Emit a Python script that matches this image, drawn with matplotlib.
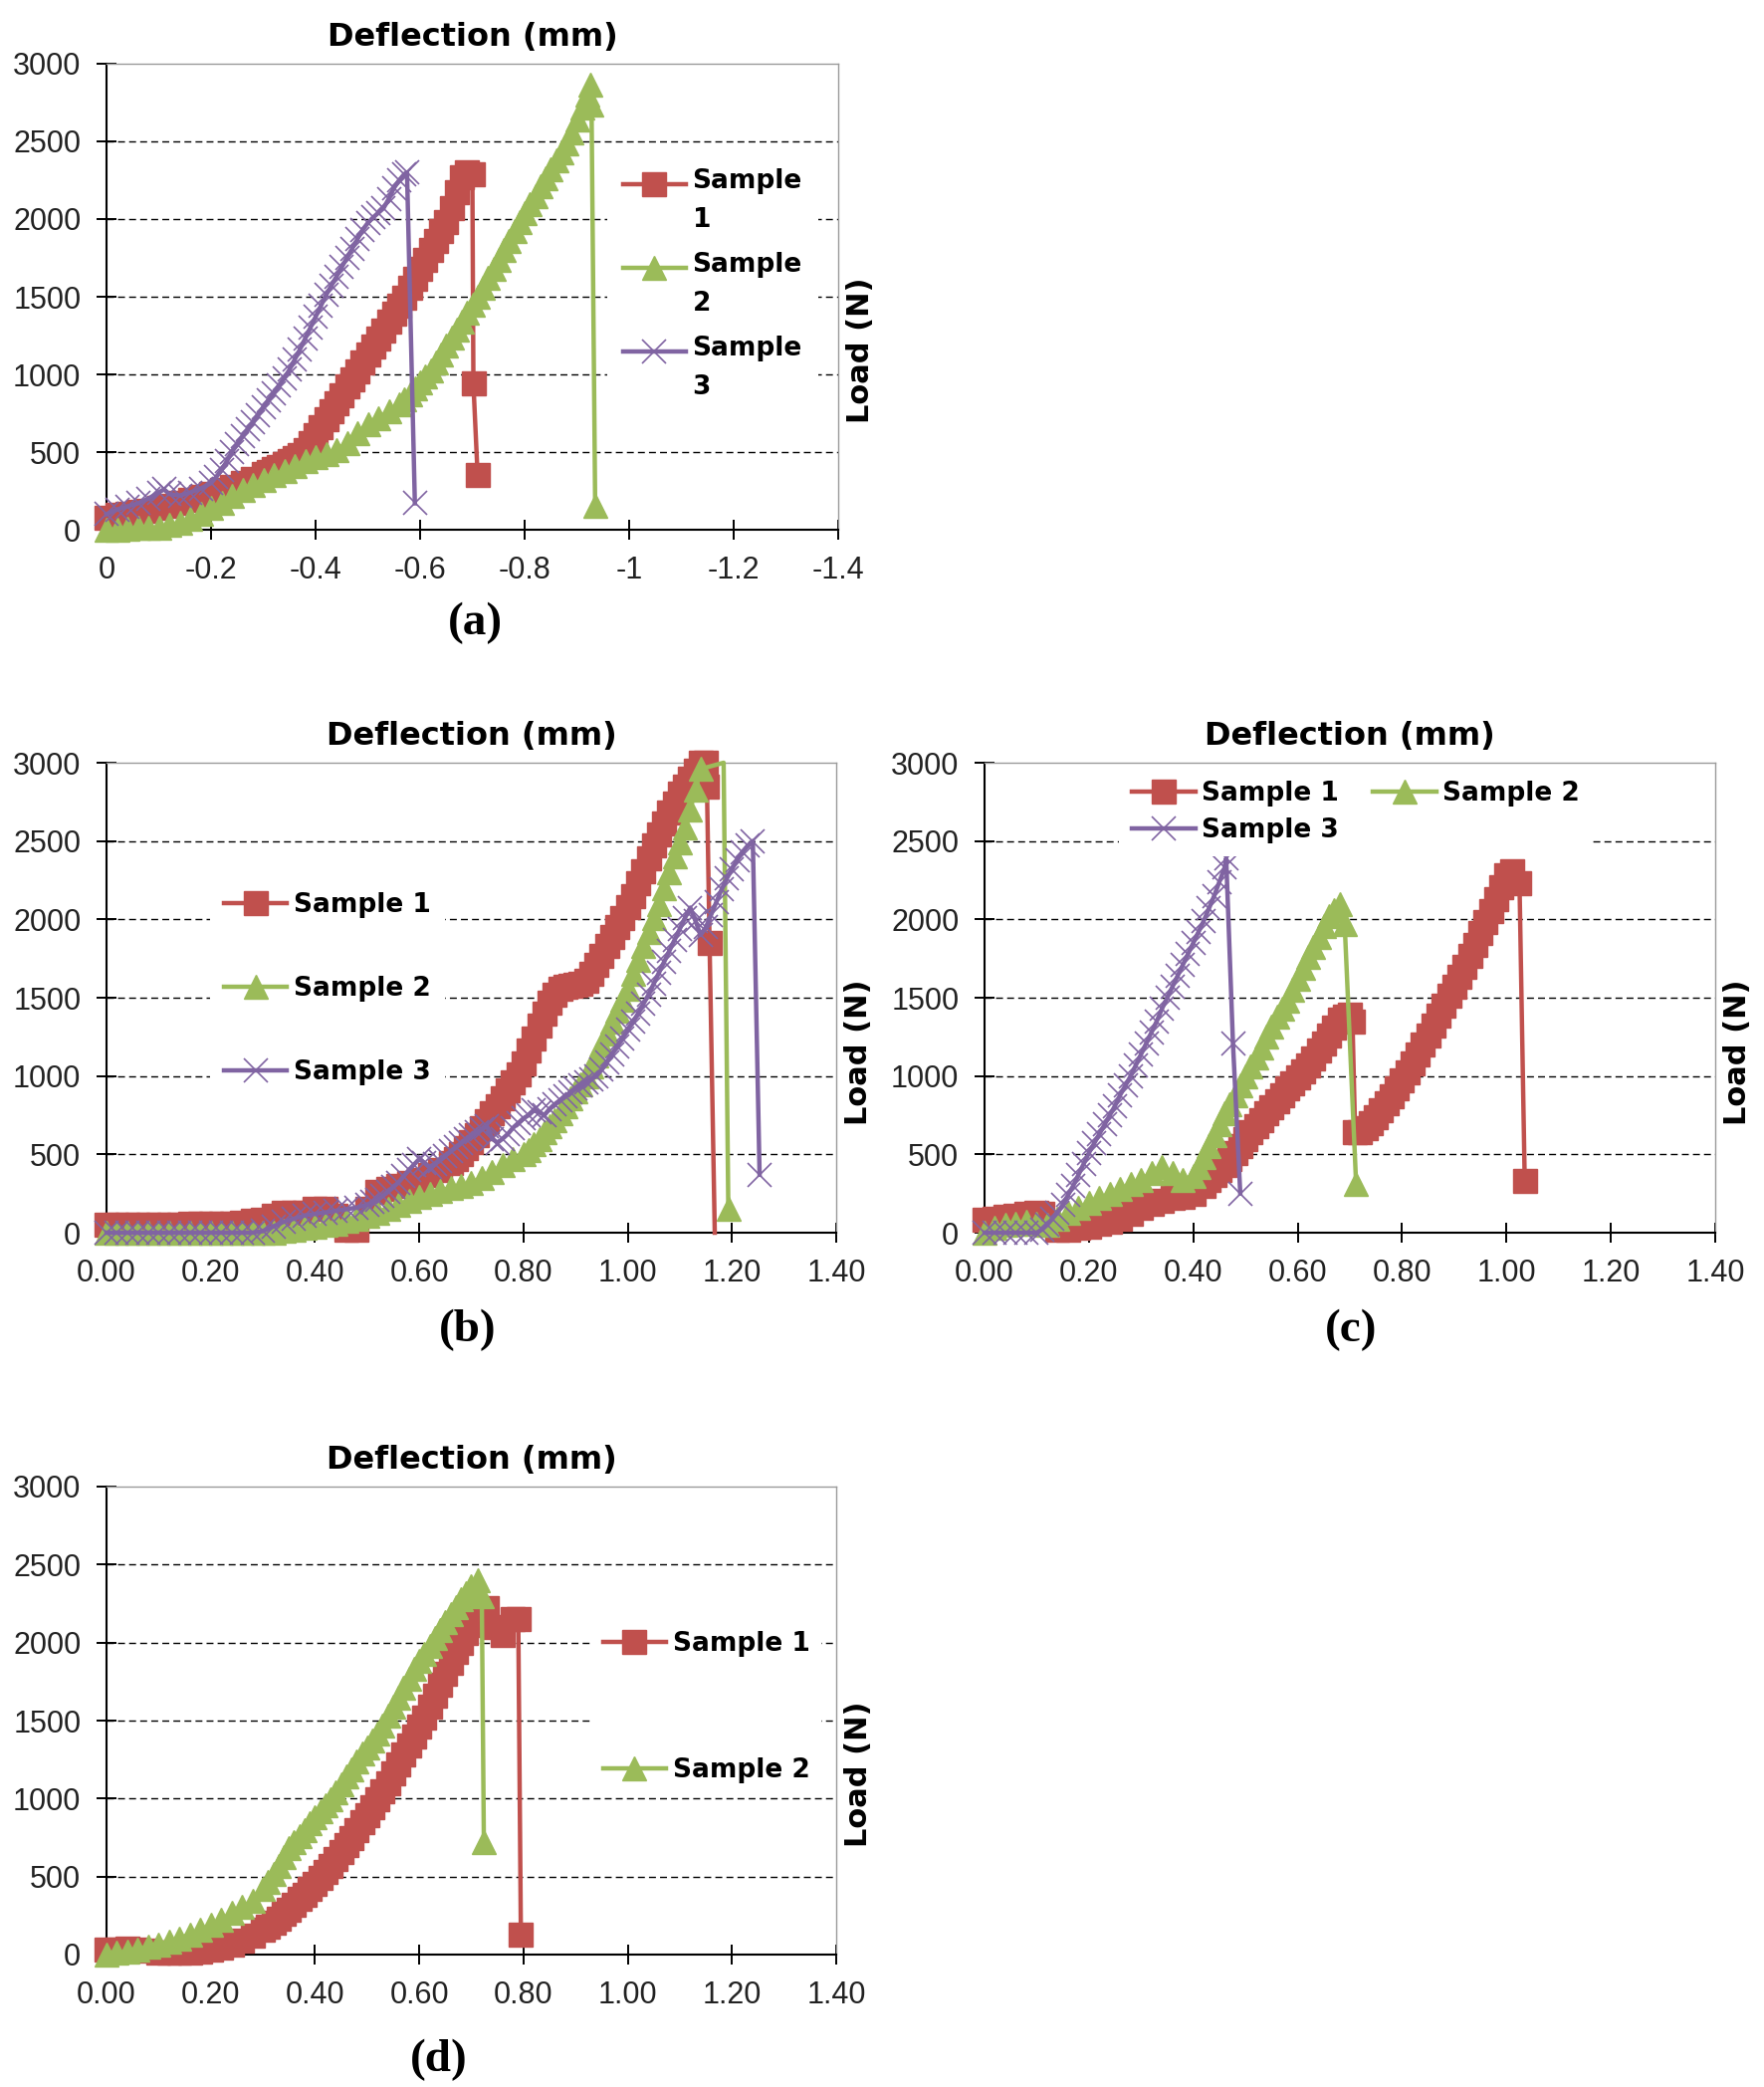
import matplotlib
matplotlib.use('Agg')
import matplotlib.pyplot as plt
from matplotlib.lines import Line2D
from matplotlib.legend_handler import HandlerLine2D

# ---- data read off the four load / deflection charts ----
# panel (a): deflection is negative
a1_x = [0, -0.02, -0.04, -0.06, -0.08, -0.10, -0.12, -0.14, -0.16, -0.18,
        -0.20, -0.22, -0.24, -0.26, -0.28, -0.30, -0.31, -0.32, -0.33, -0.34,
        -0.35, -0.36, -0.37, -0.38, -0.39, -0.40, -0.41, -0.42, -0.43, -0.44,
        -0.45, -0.46, -0.47, -0.48, -0.49, -0.50, -0.51, -0.52, -0.53, -0.54,
        -0.55, -0.56, -0.57, -0.58, -0.59, -0.60, -0.61, -0.62, -0.63, -0.64,
        -0.65, -0.66, -0.67, -0.68, -0.69, -0.70, -0.702, -0.71]
a1_y = [80, 95, 105, 115, 125, 140, 155, 170, 190, 210,
        230, 255, 275, 300, 330, 360, 375, 390, 405, 420,
        440, 460, 480, 510, 555, 610, 660, 710, 765, 815,
        865, 920, 970, 1020, 1075, 1125, 1180, 1230, 1285, 1340,
        1390, 1445, 1495, 1555, 1615, 1680, 1740, 1800, 1860, 1920,
        1980, 2070, 2170, 2270, 2300, 2290, 940, 355]
a2_x = [0, -0.02, -0.04, -0.06, -0.08, -0.10, -0.12, -0.14, -0.16, -0.18,
        -0.20, -0.22, -0.24, -0.26, -0.28, -0.30, -0.32, -0.34, -0.36, -0.38,
        -0.40, -0.42, -0.44, -0.46, -0.48, -0.50, -0.52, -0.54, -0.56, -0.57,
        -0.58, -0.59, -0.60, -0.61, -0.62, -0.63, -0.64, -0.65, -0.66, -0.67,
        -0.68, -0.69, -0.70, -0.71, -0.72, -0.73, -0.74, -0.75, -0.76, -0.77,
        -0.78, -0.79, -0.80, -0.81, -0.82, -0.83, -0.84, -0.85, -0.86, -0.87,
        -0.88, -0.89, -0.90, -0.91, -0.92, -0.926, -0.928, -0.935]
a2_y = [0, 0, 5, 10, 10, 15, 30, 45, 70, 105,
        140, 175, 215, 255, 290, 320, 350, 380, 410, 440,
        465, 485, 510, 560, 620, 680, 720, 760, 810, 840,
        870, 910, 950, 990, 1025, 1080, 1130, 1185, 1235, 1290,
        1340, 1395, 1450, 1500, 1560, 1620, 1680, 1740, 1800, 1860,
        1920, 1980, 2040, 2095, 2150, 2210, 2265, 2320, 2375, 2430,
        2490, 2560, 2640, 2720, 2800, 2865, 2740, 155]
a3_x = [0, -0.02, -0.04, -0.06, -0.08, -0.10, -0.11, -0.12, -0.14, -0.16,
        -0.18, -0.20, -0.21, -0.22, -0.23, -0.24, -0.25, -0.26, -0.27, -0.28,
        -0.29, -0.30, -0.31, -0.32, -0.33, -0.34, -0.35, -0.36, -0.37, -0.38,
        -0.39, -0.40, -0.41, -0.42, -0.43, -0.44, -0.45, -0.46, -0.47, -0.48,
        -0.49, -0.50, -0.51, -0.52, -0.53, -0.54, -0.55, -0.56, -0.57, -0.575,
        -0.59]
a3_y = [100, 130, 150, 170, 200, 240, 260, 230, 220, 240,
        265, 300, 340, 385, 440, 500, 550, 600, 645, 690,
        740, 790, 835, 880, 930, 975, 1030, 1095, 1160, 1230,
        1300, 1370, 1440, 1510, 1570, 1630, 1690, 1750, 1810, 1870,
        1930, 1975, 2010, 2040, 2070, 2130, 2200, 2250, 2290, 2300,
        170]

# panel (b)
b1_x = [0, 0.02, 0.04, 0.06, 0.08, 0.10, 0.12, 0.14, 0.16, 0.18,
        0.20, 0.22, 0.24, 0.26, 0.28, 0.30, 0.32, 0.34, 0.36, 0.38,
        0.40, 0.42, 0.44, 0.46, 0.48, 0.50, 0.52, 0.54, 0.56, 0.58,
        0.60, 0.62, 0.64, 0.66, 0.67, 0.68, 0.69, 0.70, 0.71, 0.72,
        0.73, 0.74, 0.75, 0.76, 0.77, 0.78, 0.79, 0.80, 0.81, 0.82,
        0.83, 0.84, 0.85, 0.86, 0.87, 0.88, 0.89, 0.90, 0.91, 0.92,
        0.93, 0.94, 0.95, 0.96, 0.97, 0.98, 0.99, 1.00, 1.01, 1.02,
        1.03, 1.04, 1.05, 1.06, 1.07, 1.08, 1.09, 1.10, 1.11, 1.12,
        1.13, 1.14, 1.15, 1.152, 1.157, 1.167]
b1_y = [50, 50, 50, 50, 50, 50, 50, 50, 55, 55,
        55, 60, 60, 65, 75, 85, 110, 125, 125, 130,
        150, 150, 110, 20, 20, 150, 260, 280, 300, 320,
        340, 370, 400, 445, 470, 500, 540, 580, 620, 665,
        710, 760, 810, 860, 910, 960, 1010, 1080, 1160, 1240,
        1320, 1400, 1470, 1520, 1555, 1570, 1575, 1580, 1590, 1610,
        1650, 1710, 1770, 1830, 1890, 1950, 2010, 2080, 2150, 2230,
        2310, 2390, 2470, 2540, 2610, 2680, 2740, 2800, 2850, 2900,
        2950, 3000, 3000, 2850, 1850, 0]
b2_x = [0, 0.02, 0.04, 0.06, 0.08, 0.10, 0.12, 0.14, 0.16, 0.18,
        0.20, 0.22, 0.24, 0.26, 0.28, 0.30, 0.32, 0.34, 0.36, 0.38,
        0.40, 0.42, 0.44, 0.46, 0.48, 0.50, 0.52, 0.54, 0.56, 0.58,
        0.60, 0.62, 0.64, 0.66, 0.68, 0.70, 0.72, 0.74, 0.76, 0.78,
        0.80, 0.81, 0.82, 0.83, 0.84, 0.85, 0.86, 0.87, 0.88, 0.89,
        0.90, 0.91, 0.92, 0.93, 0.94, 0.95, 0.96, 0.97, 0.98, 0.99,
        1.00, 1.01, 1.02, 1.03, 1.04, 1.05, 1.06, 1.07, 1.08, 1.09,
        1.10, 1.11, 1.12, 1.13, 1.14, 1.184, 1.193]
b2_y = [0, 0, 0, 0, 0, 0, 0, 0, 0, 0,
        0, 0, 0, 0, 0, 0, 0, 10, 20, 30,
        40, 50, 60, 75, 90, 110, 130, 155, 180, 205,
        230, 250, 270, 285, 300, 320, 350, 390, 430, 470,
        500, 530, 565, 600, 640, 680, 720, 765, 810, 855,
        900, 950, 1000, 1060, 1130, 1200, 1270, 1350, 1420, 1490,
        1560, 1650, 1740, 1830, 1920, 2010, 2100, 2200, 2300, 2400,
        2490, 2590, 2700, 2830, 2960, 3000, 155]
b3_x = [0, 0.02, 0.04, 0.06, 0.08, 0.10, 0.12, 0.14, 0.16, 0.18,
        0.20, 0.22, 0.24, 0.26, 0.28, 0.30, 0.32, 0.34, 0.36, 0.38,
        0.40, 0.42, 0.44, 0.46, 0.48, 0.50, 0.51, 0.52, 0.53, 0.54,
        0.55, 0.56, 0.57, 0.58, 0.59, 0.60, 0.61, 0.62, 0.63, 0.64,
        0.65, 0.66, 0.67, 0.68, 0.69, 0.70, 0.71, 0.72, 0.73, 0.74,
        0.75, 0.76, 0.77, 0.78, 0.79, 0.80, 0.81, 0.82, 0.83, 0.84,
        0.85, 0.86, 0.87, 0.88, 0.89, 0.90, 0.91, 0.92, 0.93, 0.94,
        0.95, 0.96, 0.97, 0.98, 0.99, 1.00, 1.01, 1.02, 1.03, 1.04,
        1.05, 1.06, 1.07, 1.08, 1.09, 1.10, 1.11, 1.12, 1.13, 1.14,
        1.15, 1.16, 1.17, 1.18, 1.19, 1.20, 1.21, 1.22, 1.23, 1.24,
        1.253]
b3_y = [0, 0, 0, 0, 0, 0, 0, 0, 0, 0,
        0, 0, 0, 0, 0, 10, 40, 70, 90, 110,
        120, 130, 140, 150, 160, 180, 195, 210, 235, 260,
        290, 320, 360, 400, 435, 470, 445, 420, 440, 460,
        490, 520, 545, 570, 595, 620, 640, 660, 680, 600,
        575, 600, 630, 670, 700, 730, 750, 780, 770, 750,
        790, 820, 845, 870, 895, 920, 940, 960, 980, 1000,
        1040, 1090, 1140, 1190, 1240, 1295, 1345, 1400, 1460, 1520,
        1590, 1660, 1730, 1800, 1870, 1940, 2010, 2075, 1990, 1900,
        1950, 2030, 2110, 2190, 2260, 2320, 2380, 2430, 2470, 2500,
        370]

# panel (c)
c1_x = [0, 0.02, 0.04, 0.06, 0.08, 0.10, 0.11, 0.12, 0.14, 0.16,
        0.18, 0.20, 0.22, 0.24, 0.26, 0.28, 0.30, 0.32, 0.34, 0.36,
        0.38, 0.40, 0.42, 0.43, 0.44, 0.45, 0.46, 0.47, 0.48, 0.49,
        0.50, 0.51, 0.52, 0.53, 0.54, 0.55, 0.56, 0.57, 0.58, 0.59,
        0.60, 0.61, 0.62, 0.63, 0.64, 0.65, 0.66, 0.67, 0.68, 0.69,
        0.70, 0.705, 0.71, 0.72, 0.73, 0.74, 0.75, 0.76, 0.77, 0.78,
        0.79, 0.80, 0.81, 0.82, 0.83, 0.84, 0.85, 0.86, 0.87, 0.88,
        0.89, 0.90, 0.91, 0.92, 0.93, 0.94, 0.95, 0.96, 0.97, 0.98,
        0.99, 1.00, 1.01, 1.025, 1.035]
c1_y = [80, 90, 100, 110, 120, 125, 120, 60, 20, 20,
        30, 40, 55, 70, 90, 120, 160, 185, 205, 220,
        230, 250, 300, 335, 370, 400, 430, 470, 510, 555,
        600, 640, 680, 720, 760, 800, 840, 880, 920, 955,
        990, 1030, 1070, 1115, 1160, 1210, 1260, 1310, 1360, 1380,
        1390, 1350, 640, 640, 670, 700, 740, 780, 825, 870,
        920, 970, 1025, 1080, 1140, 1200, 1260, 1320, 1385, 1450,
        1510, 1570, 1635, 1700, 1770, 1840, 1910, 1980, 2055, 2130,
        2205, 2280, 2310, 2230, 330]
c2_x = [0, 0.02, 0.04, 0.06, 0.08, 0.10, 0.12, 0.14, 0.16, 0.18,
        0.20, 0.22, 0.24, 0.26, 0.28, 0.30, 0.32, 0.34, 0.36, 0.38,
        0.40, 0.41, 0.42, 0.43, 0.44, 0.45, 0.46, 0.47, 0.48, 0.49,
        0.50, 0.51, 0.52, 0.53, 0.54, 0.55, 0.56, 0.57, 0.58, 0.59,
        0.60, 0.61, 0.62, 0.63, 0.64, 0.65, 0.66, 0.67, 0.68, 0.69,
        0.712]
c2_y = [0, 30, 50, 60, 70, 60, 50, 90, 130, 160,
        190, 220, 250, 280, 310, 340, 380, 420, 380, 340,
        360, 420, 480, 550, 620, 690, 760, 820, 880, 940,
        1000, 1060, 1120, 1185, 1250, 1315, 1380, 1430, 1480, 1550,
        1620, 1690, 1760, 1825, 1890, 1955, 2020, 2060, 2100, 1970,
        310]
c3_x = [0, 0.02, 0.04, 0.06, 0.08, 0.10, 0.11, 0.12, 0.13, 0.14,
        0.15, 0.16, 0.17, 0.18, 0.19, 0.20, 0.21, 0.22, 0.23, 0.24,
        0.25, 0.26, 0.27, 0.28, 0.29, 0.30, 0.31, 0.32, 0.33, 0.34,
        0.35, 0.36, 0.37, 0.38, 0.39, 0.40, 0.41, 0.42, 0.43, 0.44,
        0.45, 0.46, 0.463, 0.476, 0.49]
c3_y = [0, 0, 0, 0, 0, 0, 20, 50, 90, 130,
        180, 240, 300, 370, 440, 510, 570, 630, 690, 750,
        810, 880, 940, 1000, 1070, 1140, 1210, 1280, 1350, 1430,
        1500, 1570, 1640, 1710, 1780, 1850, 1920, 1990, 2070, 2150,
        2240, 2330, 2390, 1210, 250]

# panel (d)
d1_x = [0, 0.02, 0.04, 0.06, 0.08, 0.10, 0.12, 0.14, 0.16, 0.18,
        0.20, 0.22, 0.24, 0.26, 0.28, 0.30, 0.31, 0.32, 0.33, 0.34,
        0.35, 0.36, 0.37, 0.38, 0.39, 0.40, 0.41, 0.42, 0.43, 0.44,
        0.45, 0.46, 0.47, 0.48, 0.49, 0.50, 0.51, 0.52, 0.53, 0.54,
        0.55, 0.56, 0.57, 0.58, 0.59, 0.60, 0.61, 0.62, 0.63, 0.64,
        0.65, 0.66, 0.67, 0.68, 0.69, 0.70, 0.71, 0.72, 0.73, 0.745,
        0.76, 0.78, 0.79, 0.795]
d1_y = [30, 35, 40, 35, 25, 15, 10, 10, 15, 20,
        30, 45, 65, 90, 120, 160, 180, 205, 230, 260,
        290, 320, 355, 385, 420, 455, 490, 530, 570, 610,
        655, 700, 750, 800, 850, 895, 945, 995, 1045, 1100,
        1160, 1220, 1280, 1340, 1400, 1460, 1520, 1590, 1660, 1730,
        1800, 1870, 1940, 2000, 2060, 2110, 2160, 2200, 2220, 2100,
        2050, 2150, 2150, 130]
d2_x = [0, 0.02, 0.04, 0.06, 0.08, 0.10, 0.12, 0.14, 0.16, 0.18,
        0.20, 0.22, 0.24, 0.26, 0.28, 0.30, 0.31, 0.32, 0.33, 0.34,
        0.35, 0.36, 0.37, 0.38, 0.39, 0.40, 0.41, 0.42, 0.43, 0.44,
        0.45, 0.46, 0.47, 0.48, 0.49, 0.50, 0.51, 0.52, 0.53, 0.54,
        0.55, 0.56, 0.57, 0.58, 0.59, 0.60, 0.61, 0.62, 0.63, 0.64,
        0.65, 0.66, 0.67, 0.68, 0.69, 0.70, 0.712, 0.72, 0.724]
d2_y = [0, 10, 20, 35, 50, 65, 85, 105, 130, 160,
        190, 225, 265, 305, 345, 420, 465, 515, 570, 625,
        680, 720, 760, 800, 840, 880, 920, 960, 995, 1040,
        1090, 1140, 1190, 1240, 1290, 1330, 1370, 1420, 1470, 1530,
        1590, 1650, 1710, 1770, 1830, 1880, 1930, 1980, 2030, 2080,
        2130, 2180, 2230, 2280, 2320, 2360, 2400, 2300, 720]

y_ticks = [0, 500, 1000, 1500, 2000, 2500, 3000]
y_labels = ['0', '500', '1000', '1500', '2000', '2500', '3000']
xa_ticks = [0, -0.2, -0.4, -0.6, -0.8, -1.0, -1.2, -1.4]
xa_labels = ['0', '-0.2', '-0.4', '-0.6', '-0.8', '-1', '-1.2', '-1.4']
x_ticks = [0, 0.2, 0.4, 0.6, 0.8, 1.0, 1.2, 1.4]
x_labels = ['0.00', '0.20', '0.40', '0.60', '0.80', '1.00', '1.20', '1.40']
grid_levels = [500, 1000, 1500, 2000, 2500]

RED = '#C0504D'
GREEN = '#9BBB59'
PURPLE = '#8064A2'
styles = {1: dict(color=RED, marker='s', mec=RED, mew=1),
          2: dict(color=GREEN, marker='^', mec=GREEN, mew=1),
          3: dict(color=PURPLE, marker='x', mec=PURPLE, mew=1.2)}

plt.rcParams['font.family'] = 'Liberation Sans'
W, H = 1772, 2096
fig = plt.figure(figsize=(W / 100, H / 100), dpi=100)
legend_font = dict(family='DejaVu Sans', weight='bold', size=19)


class FirstLineHandler(HandlerLine2D):
    # lifts the legend sample up to the first line of a two line label
    def __init__(self, lift, **kw):
        super().__init__(**kw)
        self.lift = lift

    def create_artists(self, legend, orig_handle, xdescent, ydescent, width, height, fontsize, trans):
        return super().create_artists(legend, orig_handle, xdescent, ydescent - 2 * self.lift,
                                      width, height, fontsize, trans)


def make_axes(left, top, width, height, xticks, xlabels, xlim):
    ax = fig.add_axes([left / W, 1 - (top + height) / H, width / W, height / H])
    ax.set_xlim(xlim)
    ax.set_ylim(0, 3000)
    ax.set_xticks(xticks, labels=xlabels)
    ax.set_yticks(y_ticks, labels=y_labels)
    ax.tick_params(axis='x', direction='inout', length=14, width=1.4, pad=12,
                   labelsize=22, labelcolor='#222222')
    ax.tick_params(axis='y', direction='inout', length=15, width=1.4, pad=11,
                   labelsize=22, labelcolor='#222222')
    for lev in grid_levels:
        ax.axhline(lev, color='black', lw=1.0, ls=(0, (5, 3)), zorder=1)
    for s in ['left', 'bottom']:
        ax.spines[s].set_linewidth(1.5)
        ax.spines[s].set_color('black')
    for s in ['top', 'right']:
        ax.spines[s].set_linewidth(1.0)
        ax.spines[s].set_color('#9a9a9a')
    ax.set_title('Deflection (mm)', fontsize=23, fontweight='bold', family='DejaVu Sans', pad=13)
    ax.set_ylabel('Load (N)', fontsize=22, fontweight='bold', family='DejaVu Sans')
    ax.yaxis.set_label_position('right')
    ax.yaxis.set_label_coords(1.011, 0.385)
    return ax


def plot_sample(ax, x, y, n, markevery=None):
    line, = ax.plot(x, y, lw=3.2, ms=17.5, clip_on=False, zorder=3,
                    markevery=markevery, **styles[n])
    return line


def white_legend(leg):
    leg.get_frame().set_facecolor('white')
    leg.get_frame().set_linewidth(0)
    return leg


# (a)
ax = make_axes(107, 64, 735, 468, xa_ticks, xa_labels, (0, -1.4))
la = [plot_sample(ax, a1_x, a1_y, 1), plot_sample(ax, a2_x, a2_y, 2), plot_sample(ax, a3_x, a3_y, 3)]
leg = ax.legend(la, ['Sample\n1', 'Sample\n2', 'Sample\n3'], loc='upper left',
                bbox_to_anchor=(0.684, 0.81), borderaxespad=0, borderpad=0.6,
                handlelength=2.4, handletextpad=0.25, labelspacing=0.725,
                prop=legend_font, framealpha=1, fancybox=False,
                handler_map={Line2D: FirstLineHandler(12.6)})
white_legend(leg)
for t in leg.get_texts():
    t.set_linespacing(1.65)

# (b)
ax = make_axes(107, 766, 733, 472, x_ticks, x_labels, (0, 1.4))
lb = [plot_sample(ax, b1_x, b1_y, 1, markevery=list(range(len(b1_x) - 1))),
      plot_sample(ax, b2_x, b2_y, 2, markevery=[i for i in range(len(b2_x)) if i != len(b2_x) - 2]),
      plot_sample(ax, b3_x, b3_y, 3)]
leg = ax.legend(lb, ['Sample 1', 'Sample 2', 'Sample 3'], loc='upper left',
                bbox_to_anchor=(0.142, 0.754), borderaxespad=0, borderpad=0.53,
                handlelength=2.4, handletextpad=0.25, labelspacing=2.2,
                prop=legend_font, framealpha=1, fancybox=False)
white_legend(leg)

# (c)
ax = make_axes(989, 766, 734, 472, x_ticks, x_labels, (0, 1.4))
lc = [plot_sample(ax, c1_x, c1_y, 1), plot_sample(ax, c2_x, c2_y, 2), plot_sample(ax, c3_x, c3_y, 3)]
leg = ax.legend([lc[0], lc[2], lc[1]], ['Sample 1', 'Sample 3', 'Sample 2'], loc='upper left',
                ncol=2, bbox_to_anchor=(0.184, 0.99), borderaxespad=0, borderpad=0.5,
                handlelength=2.4, handletextpad=0.25, labelspacing=0.42, columnspacing=1.3,
                prop=legend_font, framealpha=1, fancybox=False)
white_legend(leg)

# (d)
ax = make_axes(107, 1493, 733, 470, x_ticks, x_labels, (0, 1.4))
ld = [plot_sample(ax, d1_x, d1_y, 1), plot_sample(ax, d2_x, d2_y, 2)]
leg = ax.legend(ld, ['Sample 1', 'Sample 2'], loc='upper left',
                bbox_to_anchor=(0.664, 0.717), borderaxespad=0, borderpad=0.45,
                handlelength=2.4, handletextpad=0.25, labelspacing=3.85,
                prop=legend_font, framealpha=1, fancybox=False)
white_legend(leg)

# panel letters
for lab, px, py in [('(a)', 477, 626), ('(b)', 470, 1336), ('(c)', 1357, 1336), ('(d)', 441, 2069)]:
    fig.text(px / W, 1 - py / H, lab, ha='center', va='center', fontsize=34,
             fontweight='bold', family='Liberation Serif')

fig.savefig('out.png', dpi=100)
